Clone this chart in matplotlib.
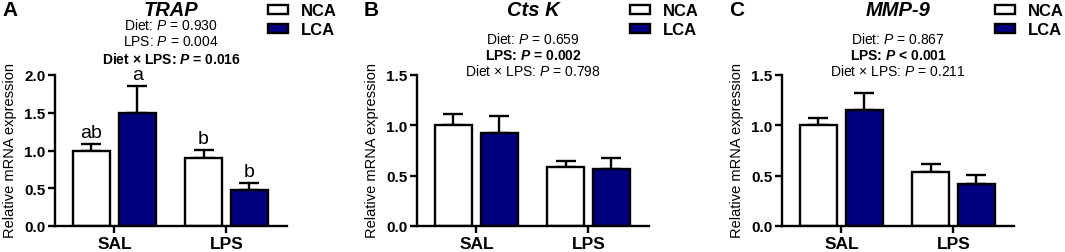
import numpy as np
import matplotlib
matplotlib.use('Agg')
import matplotlib.pyplot as plt

plt.rcParams['font.family'] = ['Liberation Sans', 'DejaVu Sans']
plt.rcParams['mathtext.fontset'] = 'custom'
plt.rcParams['mathtext.rm'] = 'Liberation Sans'
plt.rcParams['mathtext.it'] = 'Liberation Sans:italic'
plt.rcParams['mathtext.bf'] = 'Liberation Sans:bold'
plt.rcParams['mathtext.bfit'] = 'Liberation Sans:bold:italic'

groups = ['SAL', 'LPS']
series = ['NCA', 'LCA']

# mean and upper error (SEM)
trap_nca = [1.00, 0.90]
trap_nca_err = [0.08, 0.11]
trap_lca = [1.50, 0.48]
trap_lca_err = [0.35, 0.09]
trap_letters = [['ab', 'b'], ['a', 'b']]

cts_nca = [1.00, 0.59]
cts_nca_err = [0.11, 0.06]
cts_lca = [0.92, 0.57]
cts_lca_err = [0.17, 0.11]

mmp_nca = [1.00, 0.54]
mmp_nca_err = [0.075, 0.08]
mmp_lca = [1.15, 0.42]
mmp_lca_err = [0.17, 0.09]

panels = [
    dict(letter='A', gene='TRAP', nca=trap_nca, nca_err=trap_nca_err,
         lca=trap_lca, lca_err=trap_lca_err, ymax=2.0, letters=trap_letters,
         stats=[r'Diet: $\mathit{P}$ = 0.930', r'LPS: $\mathit{P}$ = 0.004',
                r'Diet × LPS: $\mathbfit{P}$ = 0.016'],
         bold=[False, False, True], left=55, stat_y=26),
    dict(letter='B', gene='Cts K', nca=cts_nca, nca_err=cts_nca_err,
         lca=cts_lca, lca_err=cts_lca_err, ymax=1.5, letters=None,
         stats=[r'Diet: $\mathit{P}$ = 0.659', r'LPS: $\mathbfit{P}$ = 0.002',
                r'Diet × LPS: $\mathit{P}$ = 0.798'],
         bold=[False, True, False], left=417, stat_y=39),
    dict(letter='C', gene='MMP-9', nca=mmp_nca, nca_err=mmp_nca_err,
         lca=mmp_lca, lca_err=mmp_lca_err, ymax=1.5, letters=None,
         stats=[r'Diet: $\mathit{P}$ = 0.867', r'LPS: $\mathbfit{P}$ < 0.001',
                r'Diet × LPS: $\mathit{P}$ = 0.211'],
         bold=[False, True, False], left=782, stat_y=39),
]

W, H = 1065, 253
fig = plt.figure(figsize=(W / 100, H / 100), dpi=100)

def fx(x):
    return x / W

def fy(y):
    return 1 - y / H

navy = '#00007f'
lw = 1.7
x = np.arange(len(groups))
width = 0.33
off = 0.205

for p in panels:
    ax = fig.add_axes([fx(p['left']), fy(227), fx(232), (227 - 76) / H])
    b1 = ax.bar(x - off, p['nca'], width, color='white', edgecolor='black',
                linewidth=lw, label='NCA', zorder=2)
    b2 = ax.bar(x + off, p['lca'], width, color=navy, edgecolor='black',
                linewidth=lw, label='LCA', zorder=2)
    ax.errorbar(x - off, p['nca'], yerr=[np.zeros(2), p['nca_err']], fmt='none',
                ecolor='black', elinewidth=lw, capsize=7, capthick=lw, zorder=1)
    ax.errorbar(x + off, p['lca'], yerr=[np.zeros(2), p['lca_err']], fmt='none',
                ecolor='black', elinewidth=lw, capsize=7, capthick=lw, zorder=1)
    if p['letters']:
        for vals, errs, labs, sh in [(p['nca'], p['nca_err'], p['letters'][0], -off),
                                     (p['lca'], p['lca_err'], p['letters'][1], off)]:
            for i in range(len(groups)):
                ax.text(x[i] + sh, vals[i] + errs[i] + 0.04, labs[i], ha='center',
                        va='bottom', fontsize=14)

    ax.set_xlim(-0.53, 1.54)
    ax.set_ylim(0, p['ymax'])
    ax.set_yticks(np.arange(0, p['ymax'] + 0.01, 0.5))
    ax.set_yticklabels(['%.1f' % v for v in np.arange(0, p['ymax'] + 0.01, 0.5)],
                       fontweight='bold', fontsize=11)
    ax.set_xticks(x)
    ax.set_xticklabels(groups, fontweight='bold', fontsize=12.5)
    ax.spines['top'].set_visible(False)
    ax.spines['right'].set_visible(False)
    ax.spines['left'].set_linewidth(lw)
    ax.spines['bottom'].set_linewidth(lw)
    ax.tick_params(axis='both', width=lw, length=5, pad=2)

    cx = p['left'] + 116
    fig.text(fx(p['left'] - 45), fy(150), 'Relative mRNA expression', rotation=90,
             ha='center', va='center', fontsize=10.5)
    fig.text(fx(p['left'] - 53), fy(11), p['letter'], ha='left', va='center',
             fontsize=15, fontweight='bold')
    fig.text(fx(cx), fy(10), p['gene'], ha='center', va='center', fontsize=14.5,
             fontweight='bold', fontstyle='italic')
    for k, (s, bd) in enumerate(zip(p['stats'], p['bold'])):
        fig.text(fx(cx), fy(p['stat_y'] + 16.5 * k), s, ha='center', va='center',
                 fontsize=10, fontweight='bold' if bd else 'normal')

    ax.legend(handles=[b1, b2], loc='upper left', frameon=False,
              bbox_to_anchor=(fx(p['left'] + 213), fy(4)), bbox_transform=fig.transFigure,
              prop={'weight': 'bold', 'size': 12}, handlelength=1.2, handleheight=0.45,
              handletextpad=0.8, labelspacing=0.25, borderpad=0, borderaxespad=0)

fig.savefig('out.png', dpi=100)
